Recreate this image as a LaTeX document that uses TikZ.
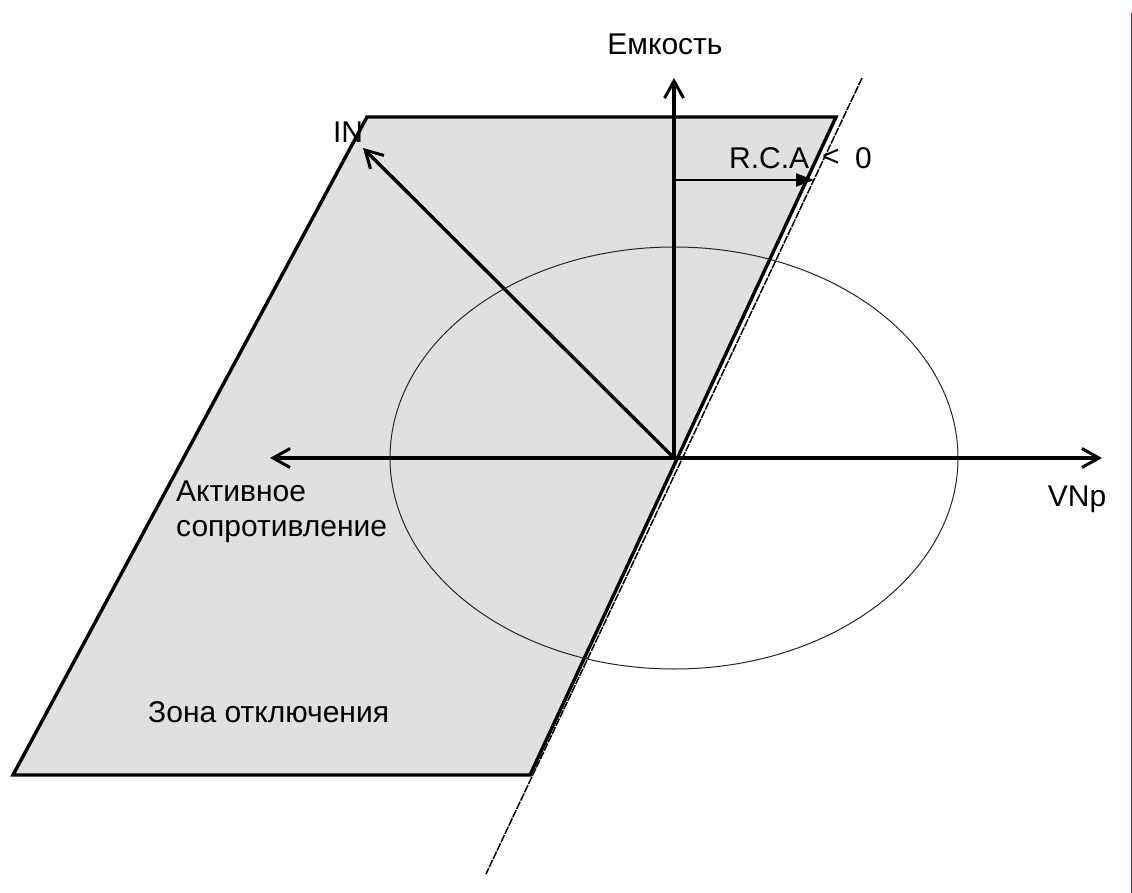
\documentclass[tikz,border=0pt]{standalone}
\usepackage{fontspec}
\setmainfont{Liberation Sans}
\usetikzlibrary{arrows.meta}
\definecolor{zonegray}{RGB}{224,224,224}
\tikzset{
  axis/.style={line width=3.4pt,-{Straight Barb[length=17pt,width=19pt,line width=3pt]}},
  lbl/.style={font=\fontsize{30}{35}\selectfont, inner sep=0pt},
}
\begin{document}
\begin{tikzpicture}[x=1pt,y=-1pt]
\useasboundingbox (0,0) rectangle (1132,893);
\fill[white] (0,0) rectangle (1132,893);
% coordinates
\coordinate (O) at (674,458);
\coordinate (TL) at (367,117);
\coordinate (TR) at (836,117);
\coordinate (BR) at (530,775);
\coordinate (BL) at (13,775);
\coordinate (Ltop) at (862,78);
\coordinate (Lbot) at (486,874);
% trip zone
\fill[zonegray] (TL) -- (TR) -- (BR) -- (BL) -- cycle;
\draw[line width=3.4pt, line join=miter] (TL) -- (TR) -- (BR) -- (BL) -- cycle;
% boundary line
\draw[line width=1.5pt, dash pattern=on 8pt off 1.2pt] (Ltop) -- (Lbot);
% circle
\draw[line width=1pt, black!85] (O) ellipse [x radius=284, y radius=211];
% axes
\coordinate (Xl) at (270,458);
\coordinate (Xr) at (1102,458);
\coordinate (Yt) at (674,78);
\coordinate (INt) at (363,148);
\draw[axis] (O) -- (Xl);
\draw[axis] (O) -- (Xr);
\draw[axis] (O) -- (Yt);
\draw[axis] (O) -- (INt);
% RCA arrow
\coordinate (Ra) at (674,180);
\coordinate (Rb) at (814,180);
\draw[line width=2pt, -{Triangle[length=18pt,width=13pt]}] (Ra) -- (Rb);
% labels
\node[lbl] (emk) at (665,44) {Емкость};
\node[lbl, anchor=west] (rca) at (729,158) {R.C.A};
\node[lbl, anchor=west] (lt) at (822,158) {<};
\node[lbl, anchor=west] (zero) at (855,158) {0};
\node[lbl] (in) at (348,132) {IN};
\node[lbl] (vnp) at (1077,499) {VNp};
\node[lbl, anchor=north west, align=left] (act) at (176,481) {Активное\\сопротивление};
\node[lbl, anchor=west] (zone) at (148,712) {Зона отключения};
% red edge line
\coordinate (Rt) at (1131,13);
\coordinate (Rbt) at (1131,893);
\draw[red!85!black, line width=1pt] (Rt) -- (Rbt);
\end{tikzpicture}
\end{document}
